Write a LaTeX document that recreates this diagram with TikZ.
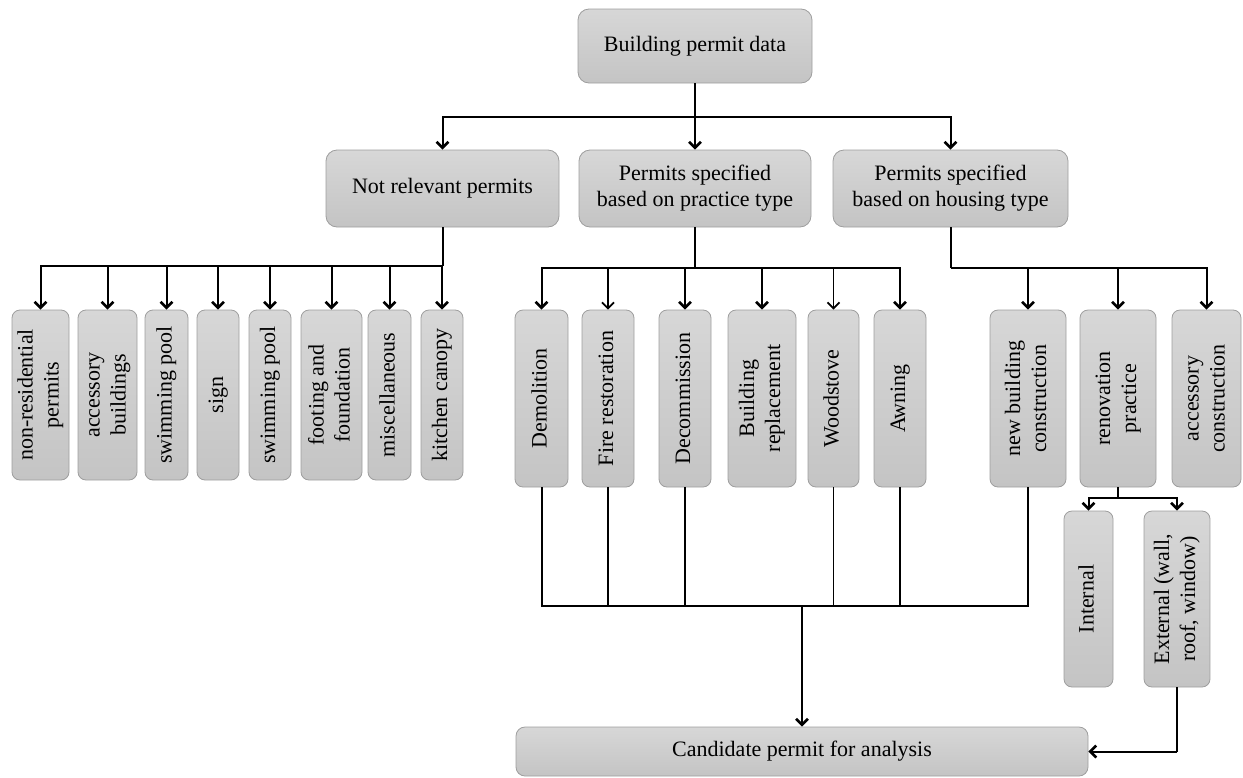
\documentclass[tikz,border=0pt]{standalone}
\usepackage{fontspec}
\setmainfont{Liberation Serif}
\usetikzlibrary{arrows.meta}
\definecolor{boxtop}{HTML}{D7D7D7}
\definecolor{boxbot}{HTML}{C4C4C4}
\definecolor{boxline}{HTML}{9E9E9E}
% vertical (rotated) label for the tall boxes
\newcommand{\vlab}[1]{\rotatebox{90}{\begin{tabular}{@{}c@{}}#1\end{tabular}}}

\begin{document}
\begin{tikzpicture}[x=1pt,y=-1pt,
  font=\fontsize{22}{26}\selectfont,
  box/.style={draw=boxline, line width=0.8pt, top color=boxtop, bottom color=boxbot,
              rounded corners=11pt, inner sep=0pt, align=center},
  leaf/.style={box, rounded corners=8pt},
  wire/.style={line width=2pt},
  thinwire/.style={line width=1.2pt},
  arr/.style={wire, -{Straight Barb[length=6pt,width=12pt,line width=2.6pt]}},
  thinarr/.style={thinwire, -{Straight Barb[length=6pt,width=12pt,line width=1.8pt]}},
]
\useasboundingbox (0,0) rectangle (1243,777);

% root and second level
\node[box, minimum width=234pt, minimum height=74pt] (top) at (695,46) {Building permit data};
\node[box, minimum width=233pt, minimum height=77pt] (nr)  at (442.5,188.5) {Not relevant permits};
\node[box, minimum width=232pt, minimum height=77pt] (mid) at (695,188.5) {Permits specified\\based on practice type};
\node[box, minimum width=235pt, minimum height=77pt] (rt)  at (950.5,188.5) {Permits specified\\based on housing type};

% not relevant permits
\node[leaf, minimum width=57pt, minimum height=170pt] (l1) at (40.5,395) {\vlab{non-residential\\permits}};
\node[leaf, minimum width=59pt, minimum height=170pt] (l2) at (107.5,395) {\vlab{accessory\\buildings}};
\node[leaf, minimum width=43pt, minimum height=170pt] (l3) at (166.5,395) {\vlab{swimming pool}};
\node[leaf, minimum width=42pt, minimum height=170pt] (l4) at (218,395) {\vlab{sign}};
\node[leaf, minimum width=42pt, minimum height=170pt] (l5) at (270,395) {\vlab{swimming pool}};
\node[leaf, minimum width=61pt, minimum height=170pt] (l6) at (331.5,395) {\vlab{footing and\\foundation}};
\node[leaf, minimum width=43pt, minimum height=170pt] (l7) at (389.5,395) {\vlab{miscellaneous}};
\node[leaf, minimum width=42pt, minimum height=170pt] (l8) at (442,395) {\vlab{kitchen canopy}};

% practice type
\node[leaf, minimum width=53pt, minimum height=177pt] (m1) at (541.5,398.5) {\vlab{Demolition}};
\node[leaf, minimum width=52pt, minimum height=177pt] (m2) at (608,398.5) {\vlab{Fire restoration}};
\node[leaf, minimum width=52pt, minimum height=177pt] (m3) at (685,398.5) {\vlab{Decommission}};
\node[leaf, minimum width=68pt, minimum height=177pt] (m4) at (762,398.5) {\vlab{Building\\replacement}};
\node[leaf, minimum width=51pt, minimum height=177pt] (m5) at (833.5,398.5) {\vlab{Woodstove}};
\node[leaf, minimum width=52pt, minimum height=177pt] (m6) at (900,398.5) {\vlab{Awning}};

% housing type
\node[leaf, minimum width=76pt, minimum height=177pt] (r1) at (1028,398.5) {\vlab{new building\\construction}};
\node[leaf, minimum width=76pt, minimum height=177pt] (r2) at (1118,398.5) {\vlab{renovation\\practice}};
\node[leaf, minimum width=69pt, minimum height=177pt] (r3) at (1206.5,398.5) {\vlab{accessory\\construction}};

% renovation split
\node[leaf, minimum width=49pt, minimum height=176pt] (int) at (1088.5,599) {\vlab{Internal}};
\node[leaf, minimum width=66pt, minimum height=176pt] (ext) at (1177,599) {\vlab{External (wall,\\roof, window)}};

% result
\node[box, rounded corners=9pt, minimum width=572pt, minimum height=49pt] (cand) at (802,751.5) {Candidate permit for analysis};

% junction points
\coordinate (j0) at (695,117);
\coordinate (ja) at (442.5,266);
\coordinate (jb) at (695,268);
\coordinate (jc) at (950.5,268);
\coordinate (jd) at (1118,498);
\coordinate (bus) at (802,606);

% root to second level
\draw[wire] (top.south) -- (j0);
\draw[arr] (j0) -| (nr.north);
\draw[arr] (j0) -- (mid.north);
\draw[arr] (j0) -| (rt.north);

% second level to leaves
\draw[wire] (nr.south) -- (ja);
\foreach \n in {l1,l2,l3,l4,l5,l6,l7,l8} \draw[arr] (ja) -| (\n.north);
\draw[wire] (mid.south) -- (jb);
\foreach \n in {m1,m3,m4,m6} \draw[arr] (jb) -| (\n.north);
\foreach \n in {m2,m5} \draw[thinarr] (jb) -| (\n.north);
\draw[wire] (rt.south) -- (jc);
\foreach \n in {r1,r2,r3} \draw[arr] (jc) -| (\n.north);

% renovation practice branches
\draw[wire] (r2.south) -- (jd);
\draw[arr] (jd) -| (int.north);
\draw[arr] (jd) -| (ext.north);

% collecting bus to the candidate box
\draw[wire] (m1.south) |- (bus);
\draw[wire] (r1.south) |- (bus);
\draw[thinwire] (m2.south) -- (m2.south |- bus);
\draw[wire] (m3.south) -- (m3.south |- bus);
\draw[thinwire] (m5.south) -- (m5.south |- bus);
\draw[wire] (m6.south) -- (m6.south |- bus);
\draw[arr] (bus) -- (cand.north);
\draw[thinwire] (ext.south) -- (ext.south |- cand.east);
\draw[arr] (ext.south |- cand.east) -- (cand.east);
\end{tikzpicture}
\end{document}
